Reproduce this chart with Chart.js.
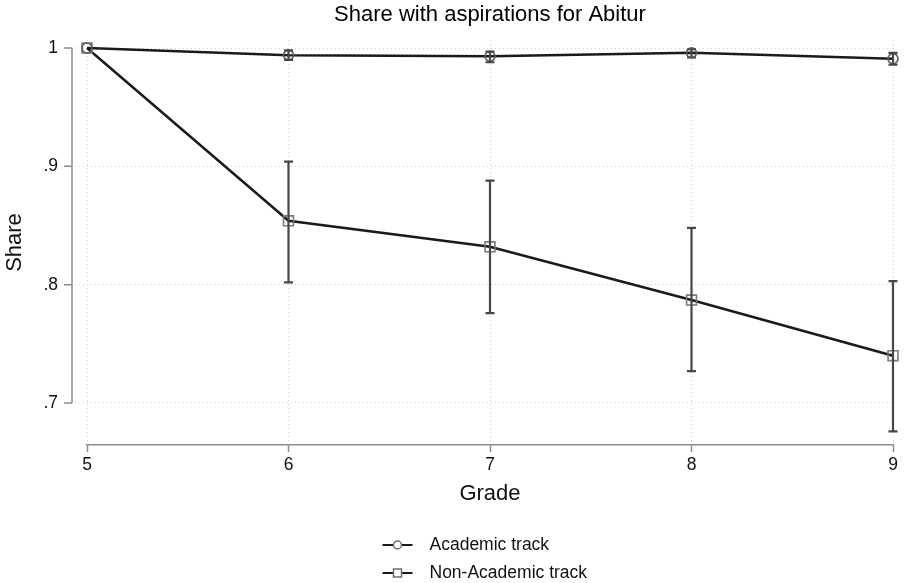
<!DOCTYPE html>
<html>
<head>
<meta charset="utf-8">
<script src="https://cdn.jsdelivr.net/npm/chart.js@4.4.0/dist/chart.umd.min.js"></script>
<style>
    html, body { margin: 0; padding: 0; background: #fff; }
    #wrap { width: 907px; height: 583px; }
</style>
</head>
<body>
<div id="wrap"><canvas id="graficoAbitur" width="907" height="583"></canvas></div>
<script>
// dados
const grades = [5, 6, 7, 8, 9];
const academic = [1.0, 0.994, 0.993, 0.996, 0.991];
const academicLo = [1.0, 0.990, 0.988, 0.992, 0.986];
const academicHi = [1.0, 0.998, 0.997, 0.999, 0.996];
const nonAcademic = [1.0, 0.854, 0.832, 0.787, 0.740];
const nonAcademicLo = [1.0, 0.802, 0.776, 0.727, 0.676];
const nonAcademicHi = [1.0, 0.904, 0.888, 0.848, 0.803];
const yTicks = [0.7, 0.8, 0.9, 1.0];
const yTickLabels = ['.7', '.8', '.9', '1'];
const seriesLabels = ['Academic track', 'Non-Academic track'];
const titulo = 'Share with aspirations for Abitur';

const fonte = 'Liberation Sans, Arial, Helvetica, sans-serif';

function pontos(valores) {
    return grades.map((g, i) => ({ x: g, y: valores[i] }));
}

// barras de erro, desenhadas com as escalas do gráfico
const errorBars = {
    id: 'errorBars',
    afterDatasetsDraw(chart) {
        const ctx = chart.ctx;
        const x = chart.scales.x;
        const y = chart.scales.y;
        const grupos = [[academicLo, academicHi], [nonAcademicLo, nonAcademicHi]];
        ctx.save();
        ctx.strokeStyle = '#474747';
        ctx.lineWidth = 2.2;
        grupos.forEach(([lo, hi]) => {
            grades.forEach((g, i) => {
                if (lo[i] === hi[i]) return;
                const px = x.getPixelForValue(g);
                const y1 = y.getPixelForValue(lo[i]);
                const y2 = y.getPixelForValue(hi[i]);
                ctx.beginPath();
                ctx.moveTo(px, y1); ctx.lineTo(px, y2);
                ctx.moveTo(px - 4.5, y1); ctx.lineTo(px + 4.5, y1);
                ctx.moveTo(px - 4.5, y2); ctx.lineTo(px + 4.5, y2);
                ctx.stroke();
            });
        });
        ctx.restore();
    }
};

// eixo y deslocado (estilo Stata), título sobre a área e legenda embaixo
const eixoLegenda = {
    id: 'eixoLegenda',
    beforeDatasetsDraw(chart) {
        const ctx = chart.ctx;
        const y = chart.scales.y;
        const area = chart.chartArea;
        const axX = area.left - 15;
        ctx.save();
        ctx.strokeStyle = '#d0d0d0';
        ctx.lineWidth = 1;
        ctx.setLineDash([1, 3]);
        yTicks.forEach(t => {
            const py = y.getPixelForValue(t);
            ctx.beginPath();
            ctx.moveTo(axX + 3, py);
            ctx.lineTo(area.left, py);
            ctx.stroke();
        });
        ctx.setLineDash([]);
        ctx.strokeStyle = '#8c8c8c';
        ctx.lineWidth = 1.5;
        ctx.beginPath();
        ctx.moveTo(axX, y.getPixelForValue(yTicks[0]));
        ctx.lineTo(axX, y.getPixelForValue(yTicks[yTicks.length - 1]));
        yTicks.forEach(t => {
            const py = y.getPixelForValue(t);
            ctx.moveTo(axX - 8, py);
            ctx.lineTo(axX, py);
        });
        ctx.stroke();
        ctx.restore();
    },
    afterDraw(chart) {
        const ctx = chart.ctx;
        const area = chart.chartArea;
        ctx.save();
        ctx.fillStyle = '#000';
        ctx.font = '22px ' + fonte;
        ctx.textAlign = 'center';
        ctx.textBaseline = 'middle';
        ctx.fillText(titulo, (area.left + area.right) / 2, 15);

        const cx = chart.width / 2;
        const linhas = [545, 573];
        seriesLabels.forEach((label, i) => {
            const ly = linhas[i];
            const x0 = cx - 71;
            ctx.strokeStyle = '#1a1a1a';
            ctx.lineWidth = 2;
            ctx.beginPath();
            ctx.moveTo(x0, ly);
            ctx.lineTo(x0 + 30, ly);
            ctx.stroke();
            ctx.strokeStyle = '#6e6e6e';
            ctx.fillStyle = '#fff';
            ctx.lineWidth = 1.5;
            ctx.beginPath();
            if (i === 0) {
                ctx.arc(x0 + 15, ly, 4, 0, Math.PI * 2);
            } else {
                ctx.rect(x0 + 11, ly - 4, 8, 8);
            }
            ctx.fill();
            ctx.stroke();
            ctx.fillStyle = '#111';
            ctx.font = '17.5px ' + fonte;
            ctx.textAlign = 'left';
            ctx.textBaseline = 'middle';
            ctx.fillText(label, x0 + 47, ly);
        });
        ctx.restore();
    }
};

const ctx = document.getElementById('graficoAbitur').getContext('2d');

const graficoAbitur = new Chart(ctx, {
    type: 'line',
    data: {
        datasets: [
            {
                label: seriesLabels[0],
                data: pontos(academic),
                borderColor: '#1a1a1a',
                borderWidth: 2.5,
                pointStyle: 'circle',
                pointRadius: 5,
                pointBorderWidth: 1.6,
                pointBorderColor: '#5e5e5e',
                pointBackgroundColor: 'rgba(255,255,255,0)',
                tension: 0,
                clip: false
            },
            {
                label: seriesLabels[1],
                data: pontos(nonAcademic),
                borderColor: '#1a1a1a',
                borderWidth: 2.5,
                pointStyle: 'rect',
                pointRadius: 7,
                pointBorderWidth: 1.6,
                pointBorderColor: '#7a7a7a',
                pointBackgroundColor: 'rgba(255,255,255,0)',
                tension: 0,
                clip: false
            }
        ]
    },
    options: {
        responsive: false,
        animation: false,
        layout: { padding: { left: 0, right: 14, top: 40, bottom: 76 } },
        plugins: {
            legend: { display: false },
            tooltip: { enabled: false },
            title: { display: false }
        },
        scales: {
            x: {
                type: 'linear',
                min: 5,
                max: 9,
                afterFit: s => { s.height = 62; },
                ticks: {
                    stepSize: 1,
                    color: '#111',
                    padding: 2.5,
                    font: { family: fonte, size: 17.5 }
                },
                grid: {
                    color: '#d0d0d0',
                    lineWidth: 1,
                    drawTicks: true,
                    tickLength: 7,
                    tickColor: '#8c8c8c',
                    tickWidth: 1.5,
                    tickBorderDash: []
                },
                border: { display: true, color: '#8c8c8c', width: 1.5, dash: [1, 3] },
                title: {
                    display: true,
                    text: 'Grade',
                    color: '#111',
                    font: { family: fonte, size: 22 },
                    padding: { top: 4, bottom: 0 }
                }
            },
            y: {
                type: 'linear',
                min: 0.6645,
                max: 1.0068,
                afterFit: s => { s.width = 87; },
                afterBuildTicks: s => { s.ticks = yTicks.map(v => ({ value: v })); },
                ticks: {
                    color: '#111',
                    padding: 29,
                    font: { family: fonte, size: 17.5 },
                    callback: v => yTickLabels[yTicks.indexOf(v)]
                },
                grid: {
                    color: '#d0d0d0',
                    lineWidth: 1,
                    drawTicks: false
                },
                border: { display: false, dash: [1, 3] },
                title: {
                    display: true,
                    text: 'Share',
                    color: '#111',
                    font: { family: fonte, size: 22 },
                    padding: { top: 2, bottom: 0 }
                }
            }
        }
    },
    plugins: [errorBars, eixoLegenda]
});
</script>
</body>
</html>
